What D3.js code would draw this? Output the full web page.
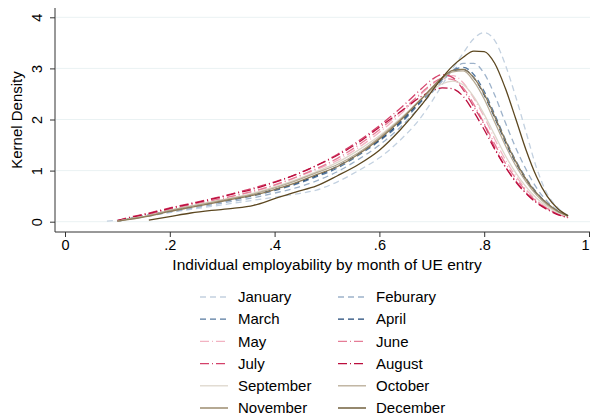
<!DOCTYPE html>
<html>
<head>
<meta charset="utf-8">
<script src="https://cdn.jsdelivr.net/npm/d3@7"></script>
<style>
  body { margin: 0; background: #fff; }
  svg text { font-family: "Liberation Sans", Arial, sans-serif; fill: #000; }
</style>
</head>
<body>
<div id="chart"></div>
<script>
// grid of employability values where densities were read
var xs = [0.08, 0.10, 0.12, 0.16, 0.20, 0.24, 0.28, 0.32, 0.36, 0.40, 0.44, 0.48, 0.52, 0.56, 0.60,
          0.64, 0.68, 0.70, 0.72, 0.74, 0.76, 0.78, 0.80, 0.82, 0.84, 0.86, 0.88, 0.90, 0.92, 0.94, 0.96];

var months = ["January", "Feburary", "March", "April", "May", "June",
              "July", "August", "September", "October", "November", "December"];

var jan = [0.01, 0.03, 0.06, 0.12, 0.18, 0.24, 0.30, 0.36, 0.42, 0.48, 0.54, 0.62, 0.78, 1.00, 1.25,
           1.60, 2.05, 2.35, 2.68, 3.00, 3.30, 3.58, 3.70, 3.55, 3.08, 2.45, 1.75, 1.05, 0.55, 0.28, 0.12];
var feb = [null, 0.02, 0.05, 0.11, 0.19, 0.26, 0.33, 0.40, 0.47, 0.56, 0.66, 0.80, 0.98, 1.22, 1.50,
           1.85, 2.28, 2.52, 2.75, 2.95, 3.10, 3.10, 2.90, 2.48, 1.95, 1.45, 1.02, 0.66, 0.40, 0.22, 0.11];
var mar = [null, 0.01, 0.05, 0.12, 0.21, 0.29, 0.36, 0.43, 0.51, 0.61, 0.73, 0.88, 1.05, 1.30, 1.58,
           1.92, 2.35, 2.57, 2.78, 2.96, 3.02, 2.88, 2.55, 2.10, 1.62, 1.20, 0.85, 0.57, 0.36, 0.21, 0.11];
var apr = [null, 0.01, 0.05, 0.13, 0.22, 0.30, 0.37, 0.45, 0.53, 0.63, 0.75, 0.90, 1.08, 1.33, 1.60,
           1.95, 2.38, 2.60, 2.80, 2.95, 2.98, 2.82, 2.48, 2.04, 1.57, 1.16, 0.82, 0.55, 0.35, 0.20, 0.11];
var may = [null, 0.02, 0.07, 0.15, 0.25, 0.34, 0.42, 0.50, 0.59, 0.71, 0.86, 1.02, 1.20, 1.45, 1.75,
           2.10, 2.50, 2.68, 2.82, 2.86, 2.72, 2.42, 2.05, 1.62, 1.22, 0.90, 0.63, 0.42, 0.27, 0.16, 0.09];
var jun = [null, 0.02, 0.06, 0.14, 0.24, 0.33, 0.41, 0.50, 0.60, 0.72, 0.87, 1.04, 1.24, 1.50, 1.80,
           2.15, 2.52, 2.70, 2.80, 2.78, 2.62, 2.30, 1.92, 1.52, 1.15, 0.85, 0.60, 0.40, 0.26, 0.15, 0.09];
var jul = [null, 0.02, 0.08, 0.17, 0.27, 0.36, 0.45, 0.55, 0.66, 0.78, 0.92, 1.10, 1.32, 1.58, 1.88,
           2.22, 2.60, 2.78, 2.88, 2.82, 2.58, 2.25, 1.90, 1.45, 1.08, 0.80, 0.56, 0.38, 0.25, 0.15, 0.08];
var aug = [null, 0.02, 0.07, 0.16, 0.26, 0.35, 0.44, 0.54, 0.64, 0.77, 0.92, 1.10, 1.30, 1.55, 1.85,
           2.15, 2.45, 2.56, 2.62, 2.60, 2.45, 2.15, 1.80, 1.42, 1.08, 0.78, 0.55, 0.37, 0.24, 0.14, 0.08];
var sep = [null, 0.01, 0.05, 0.12, 0.22, 0.31, 0.39, 0.47, 0.56, 0.68, 0.82, 0.98, 1.16, 1.40, 1.68,
           2.02, 2.40, 2.57, 2.70, 2.75, 2.68, 2.45, 2.10, 1.70, 1.30, 0.96, 0.68, 0.46, 0.30, 0.18, 0.10];
var oct = [null, 0.01, 0.05, 0.12, 0.22, 0.30, 0.38, 0.46, 0.54, 0.66, 0.80, 0.96, 1.12, 1.35, 1.65,
           2.00, 2.40, 2.60, 2.80, 2.93, 2.95, 2.75, 2.40, 1.95, 1.50, 1.10, 0.78, 0.52, 0.33, 0.20, 0.11];
var nov = [null, 0.01, 0.04, 0.11, 0.20, 0.28, 0.36, 0.44, 0.52, 0.63, 0.76, 0.92, 1.08, 1.32, 1.62,
           1.98, 2.40, 2.62, 2.82, 2.96, 2.98, 2.82, 2.50, 2.06, 1.60, 1.18, 0.83, 0.56, 0.36, 0.21, 0.11];
var dec = [null, null, null, 0.03, 0.10, 0.17, 0.22, 0.26, 0.32, 0.45, 0.58, 0.70, 0.90, 1.12, 1.40,
           1.80, 2.28, 2.55, 2.82, 3.05, 3.22, 3.34, 3.33, 3.10, 2.62, 2.02, 1.40, 0.88, 0.50, 0.26, 0.12];

var xTicks = [0, 0.2, 0.4, 0.6, 0.8, 1];
var xTickLabels = ["0", ".2", ".4", ".6", ".8", "1"];
var yTicks = [0, 1, 2, 3, 4];

var series = [jan, feb, mar, apr, may, jun, jul, aug, sep, oct, nov, dec];
var colors = ["#c3d1e0", "#9db2ca", "#56799f", "#1f4777",
              "#f2b3c2", "#e57c96", "#d4416a", "#bb0d3d",
              "#ddd6cb", "#b7ab95", "#8d7a58", "#5c4720"];
var dashed = "6,4";
var dashdot = "9,3,1,3";
var dashes = [dashed, dashed, dashed, dashed, dashdot, dashdot, dashdot, dashdot, null, null, null, null];

var width = 590, height = 420;
var svg = d3.select("#chart").append("svg")
    .attr("width", width)
    .attr("height", height);

var x = d3.scaleLinear().domain([0, 1]).range([65, 589]);
var y = d3.scaleLinear().domain([0, 4]).range([221.7, 17.3]);

// gridlines
svg.append("g")
    .selectAll("line")
    .data(yTicks)
    .enter()
    .append("line")
    .attr("x1", 56)
    .attr("x2", 590)
    .attr("y1", function(d) { return y(d); })
    .attr("y2", function(d) { return y(d); })
    .style("stroke", "#eaf2f3")
    .style("stroke-width", 1);

// y axis
var yAxis = svg.append("g")
    .attr("transform", "translate(55,0)")
    .call(d3.axisLeft(y).tickValues(yTicks).tickSize(5).tickPadding(0).tickFormat(d3.format("d")));
yAxis.select(".domain").attr("d", "M0,8V232");
yAxis.selectAll("text")
    .attr("transform", "translate(-18,0) rotate(-90)")
    .attr("x", 0).attr("y", 0).attr("dy", "0.35em")
    .style("text-anchor", "middle")
    .style("font-size", "14.5px");

// x axis
var xAxis = svg.append("g")
    .attr("transform", "translate(0,232)")
    .call(d3.axisBottom(x).tickValues(xTicks).tickSize(5).tickPadding(3)
        .tickFormat(function(d, i) { return xTickLabels[i]; }));
xAxis.select(".domain").attr("d", "M55,0H590");
xAxis.selectAll("text").style("font-size", "14.5px");
xAxis.selectAll(".tick:last-of-type text").attr("dx", "-4");
svg.selectAll(".domain, .tick line").style("stroke", "#333").style("stroke-width", 1);

svg.append("text")
    .attr("x", 327)
    .attr("y", 270)
    .style("text-anchor", "middle")
    .style("font-size", "15.5px")
    .text("Individual employability by month of UE entry");

svg.append("text")
    .attr("transform", "translate(22,120) rotate(-90)")
    .style("text-anchor", "middle")
    .style("font-size", "15px")
    .text("Kernel Density");

// density curves
var line = d3.line()
    .defined(function(d) { return d[1] != null; })
    .x(function(d) { return x(d[0]); })
    .y(function(d) { return y(d[1]); })
    .curve(d3.curveMonotoneX);

svg.append("g")
    .selectAll("path")
    .data(series)
    .enter()
    .append("path")
    .attr("d", function(s) { return line(xs.map(function(v, i) { return [v, s[i]]; })); })
    .style("fill", "none")
    .style("stroke", function(d, i) { return colors[i]; })
    .style("stroke-width", 1.3)
    .style("stroke-dasharray", function(d, i) { return dashes[i]; });

// legend, two columns
var legend = svg.append("g")
    .selectAll("g")
    .data(months)
    .enter()
    .append("g")
    .attr("transform", function(d, i) {
        return "translate(" + (i % 2 ? 338 : 200) + "," + (297 + Math.floor(i / 2) * 22.2) + ")";
    });

legend.append("line")
    .attr("x1", 0).attr("x2", 28)
    .style("stroke", function(d, i) { return colors[i]; })
    .style("stroke-width", 1.3)
    .style("stroke-dasharray", function(d, i) { return dashes[i]; });

legend.append("text")
    .attr("x", 38)
    .attr("dy", "0.35em")
    .style("font-size", "15px")
    .text(function(d) { return d; });
</script>
</body>
</html>
